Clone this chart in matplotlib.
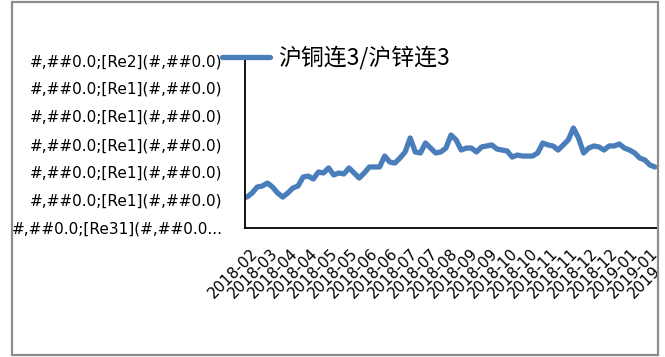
import numpy as np
import matplotlib.pyplot as plt
from matplotlib.patches import Rectangle

# 沪铜连3/沪锌连3 比值
ratio = [1.921, 1.950, 1.993, 2.000, 2.021, 1.993, 1.950, 1.921, 1.950, 1.986,
         2.000, 2.064, 2.071, 2.050, 2.100, 2.093, 2.129, 2.079, 2.093, 2.086,
         2.129, 2.093, 2.057, 2.093, 2.136, 2.136, 2.136, 2.214, 2.171, 2.164,
         2.200, 2.243, 2.343, 2.243, 2.236, 2.307, 2.271, 2.236, 2.243, 2.271,
         2.364, 2.329, 2.257, 2.271, 2.271, 2.243, 2.279, 2.286, 2.293, 2.264,
         2.257, 2.250, 2.207, 2.221, 2.214, 2.214, 2.214, 2.236, 2.307, 2.293,
         2.286, 2.257, 2.293, 2.329, 2.414, 2.343, 2.236, 2.271, 2.286, 2.279,
         2.257, 2.286, 2.286, 2.300, 2.271, 2.257, 2.236, 2.200, 2.186, 2.150,
         2.136]

x_labels = ['2018-02', '2018-03', '2018-04', '2018-04', '2018-05', '2018-05',
            '2018-06', '2018-06', '2018-07', '2018-07', '2018-08', '2018-09',
            '2018-09', '2018-10', '2018-10', '2018-11', '2018-11', '2018-12',
            '2018-12', '2019-01', '2019-01', '2019-02']

y_ticks = [1.7, 1.9, 2.1, 2.3, 2.5, 2.7, 2.9]
y_labels = ['#,##0.0;[Re31](#,##0.0...', '#,##0.0;[Re1](#,##0.0)',
            '#,##0.0;[Re1](#,##0.0)', '#,##0.0;[Re1](#,##0.0)',
            '#,##0.0;[Re1](#,##0.0)', '#,##0.0;[Re1](#,##0.0)',
            '#,##0.0;[Re2](#,##0.0)']

series_name = '沪铜连3/沪锌连3'
blue = '#4a7ebb'

W, H = 665, 357
fig = plt.figure(figsize=(W / 100, H / 100), dpi=100)

# 绘图区（右侧超出图表边框，被裁掉）
left, right, top, bottom = 245, 700, 60, 228
ax = fig.add_axes([left / W, 1 - bottom / H, (right - left) / W, (bottom - top) / H])

xs = np.arange(len(ratio))
ax.plot(xs, ratio, color=blue, linewidth=3.8, solid_capstyle='round',
        solid_joinstyle='round', label=series_name)

px = 5.1  # 每个数据点的像素间距
ax.set_xlim(-2 / px, (right - 247) / px)
ax.set_ylim(y_ticks[0], y_ticks[-1])

tick_pos = [(3 + 20 * i) / px for i in range(len(x_labels))]
ax.set_xticks(tick_pos)
ax.set_xticklabels(x_labels, rotation=45, ha='right', va='top',
                   rotation_mode='anchor', fontsize=11)
ax.set_yticks(y_ticks)
ax.set_yticklabels(y_labels, fontsize=11)
ax.tick_params(axis='x', length=0, pad=12.5)
ax.tick_params(axis='y', length=0, pad=16)

for s in ['top', 'right']:
    ax.spines[s].set_visible(False)
for s in ['left', 'bottom']:
    ax.spines[s].set_color('black')
    ax.spines[s].set_linewidth(1.3)

fig.legend(handles=ax.get_lines(), loc='center left',
           bbox_to_anchor=(222 / W, 1 - 58 / H), frameon=False,
           prop={'family': ['Noto Sans CJK SC', 'DejaVu Sans'], 'size': 16.5},
           handlelength=2.1, handletextpad=0.35, borderpad=0, borderaxespad=0)

# 图表外框以外留白
fig.patches.append(Rectangle((659 / W, 0), 1, 1, transform=fig.transFigure,
                             facecolor='white', edgecolor='none', zorder=10))
fig.patches.append(Rectangle((12 / W, 2 / H), 646 / W, 353 / H,
                             transform=fig.transFigure, fill=False,
                             edgecolor='#8c8c8c', linewidth=1.6, zorder=11))

fig.savefig('out.png', dpi=100)
